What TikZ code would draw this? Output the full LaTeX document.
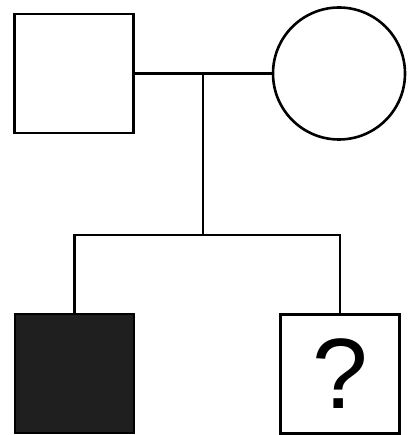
\documentclass[tikz,border=0pt]{standalone}
\usepackage{fontspec}
\setsansfont{Liberation Sans}
\usetikzlibrary{positioning}

\begin{document}
\begin{tikzpicture}[
    x=1pt, y=-1pt,
    male/.style={rectangle, draw=black, line width=2.6pt,
                 minimum size=119pt, inner sep=0pt},
    female/.style={circle, draw=black, line width=2.6pt,
                   minimum size=132pt, inner sep=0pt},
    link/.style={black, line width=2.6pt},
]
\useasboundingbox (0,0) rectangle (407,435);

% Parents (top)
\node[male] (father) at (74,73.5) {};
\node[female] (mother) at (339,73.5) {};
\draw[link] (father) -- (mother);
\coordinate (union) at (203,73.5);
\coordinate (sibship) at (203,235);
\draw[link] (union) -- (sibship);

% Children (bottom)
\node[male, fill=black!88] (affected) at (74.5,373.5) {};
\node[male, font=\fontsize{100}{100}\sffamily] (unknown) at (340,374) {?};
\draw[link] (affected.north) |- (sibship) -| (unknown.north);
\end{tikzpicture}
\end{document}
